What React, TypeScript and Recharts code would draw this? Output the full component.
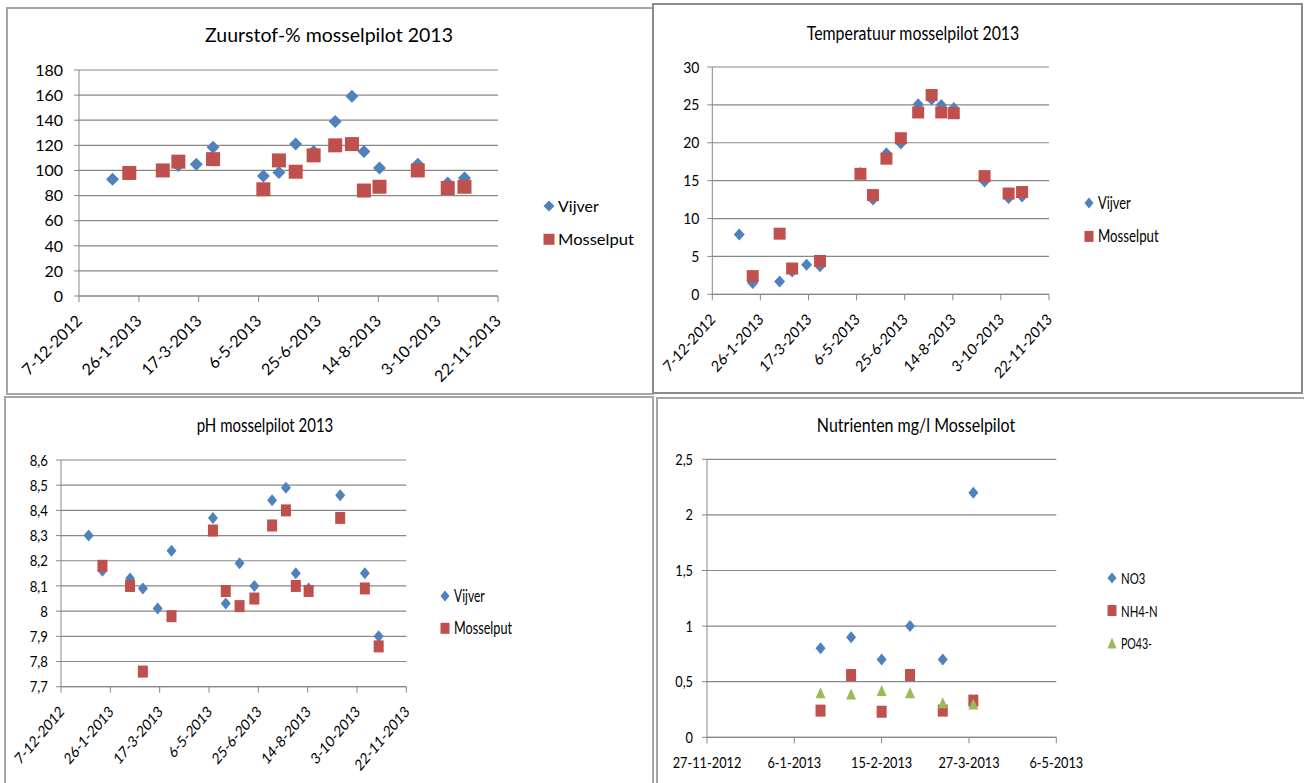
import { CartesianGrid, Legend, Scatter, ScatterChart, XAxis, YAxis } from 'recharts';

// sample dates of the mussel pilot (d-m-yyyy)
const sampleDates = [
  '4-1-2013', '18-1-2013', '15-2-2013', '28-2-2013', '15-3-2013', '29-3-2013', '10-5-2013', '23-5-2013',
  '6-6-2013', '21-6-2013', '9-7-2013', '23-7-2013', '2-8-2013', '15-8-2013', '16-9-2013', '11-10-2013', '25-10-2013',
];
const nutrientDates = ['18-1-2013', '1-2-2013', '15-2-2013', '28-2-2013', '15-3-2013', '29-3-2013'];

const zuurstofVijver = [93, null, null, 104, 105, 118.5, 95.5, 98.4, 121, 115, 139, 159, 115, 102, 105, 90, 94];
const zuurstofMosselput = [null, 98, 100, 107, null, 109, 85, 108, 99, 112, 120, 121, 84, 87, 100, 86, 87];

const tempVijver = [7.9, 1.5, 1.7, 3.0, 3.9, 3.7, 16, 12.5, 18.6, 19.9, 25.1, 25.7, 25, 24.6, 14.9, 12.7, 12.9];
const tempMosselput = [null, 2.4, 8.0, 3.4, null, 4.4, 15.9, 13.1, 17.9, 20.6, 24.0, 26.3, 24.0, 23.9, 15.6, 13.3, 13.5];

const phVijver = [8.3, 8.16, 8.13, 8.09, 8.01, 8.24, 8.37, 8.03, 8.19, 8.1, 8.44, 8.49, 8.15, 8.09, 8.46, 8.15, 7.9];
const phMosselput = [null, 8.18, 8.1, 7.76, null, 7.98, 8.32, 8.08, 8.02, 8.05, 8.34, 8.4, 8.1, 8.08, 8.37, 8.09, 7.86];

const no3 = [0.8, 0.9, 0.7, 1.0, 0.7, 2.2];
const nh4n = [0.24, 0.56, 0.23, 0.56, 0.24, 0.33];
const po43 = [0.4, 0.39, 0.42, 0.4, 0.31, 0.3];

const yearTicks = ['7-12-2012', '26-1-2013', '17-3-2013', '6-5-2013', '25-6-2013', '14-8-2013', '3-10-2013', '22-11-2013'];
const nutrientTicks = ['27-11-2012', '6-1-2013', '15-2-2013', '27-3-2013', '6-5-2013'];
const zuurstofTicks = [0, 20, 40, 60, 80, 100, 120, 140, 160, 180];
const tempTicks = [0, 5, 10, 15, 20, 25, 30];
const phTicks = [7.7, 7.8, 7.9, 8.0, 8.1, 8.2, 8.3, 8.4, 8.5, 8.6];
const nutrientValueTicks = [0, 0.5, 1, 1.5, 2, 2.5];

const FONT = 'Lato, "Open Sans", sans-serif';
const BLUE = '#4F81BD';
const RED = '#C0504D';
const GREEN = '#9BBB59';
const GRID = '#878787';

type Kind = 'diamond' | 'square' | 'triangle';

function dayNumber(s: string) {
  const [d, m, y] = s.split('-').map(Number);
  return Date.UTC(y, m - 1, d) / 86400000;
}

function dateLabel(n: number) {
  const dt = new Date(Math.round(n) * 86400000);
  return `${dt.getUTCDate()}-${dt.getUTCMonth() + 1}-${dt.getUTCFullYear()}`;
}

const commaLabel = (v: number) => String(Math.round(v * 10) / 10).replace('.', ',');

function points(dates: string[], values: (number | null)[]) {
  return dates
    .map((d, i) => ({ x: dayNumber(d), y: values[i] }))
    .filter((p) => p.y !== null);
}

function Marker({ kind, cx, cy, w, h, color }: { kind: Kind; cx: number; cy: number; w: number; h: number; color: string }) {
  if (kind === 'diamond') {
    return <polygon points={`${cx},${cy - h / 2} ${cx + w / 2},${cy} ${cx},${cy + h / 2} ${cx - w / 2},${cy}`} fill={color} />;
  }
  if (kind === 'square') {
    return <rect x={cx - w / 2} y={cy - h / 2} width={w} height={h} fill={color} />;
  }
  return <polygon points={`${cx},${cy - h / 2} ${cx + w / 2},${cy + h / 2} ${cx - w / 2},${cy + h / 2}`} fill={color} />;
}

type Series = { name: string; values: (number | null)[]; color: string; kind: Kind; w: number; h: number };

type PanelProps = {
  left: number;
  top: number;
  width: number;
  height: number;
  margin: { top: number; right: number; bottom: number; left: number };
  yWidth: number;
  xHeight: number;
  sx: number;
  fontSize: number;
  yMargin: number;
  title: string;
  titleX: number;
  titleY: number;
  titleLength: number;
  dates: string[];
  series: Series[];
  xTicks: string[];
  rotated: boolean;
  yTicks: number[];
  yFormat: (v: number) => string;
  legendX: number;
  legendY: number;
  legendGap: number;
  legendFont: number;
  legendWidths: number[];
  legendMarker: [number, number];
  border: string;
};

function ChartPanel(p: PanelProps) {
  const xs = p.xTicks.map(dayNumber);

  const yTick = ({ x, y, payload }: any) => (
    <g transform={`translate(${x},${y}) scale(${p.sx},1)`}>
      <text textAnchor="end" dy="0.36em" fontSize={p.fontSize} fontFamily={FONT} fill="#000">
        {p.yFormat(payload.value)}
      </text>
    </g>
  );

  const xTick = ({ x, y, payload }: any) =>
    p.rotated ? (
      <g transform={`translate(${x + 4},${y + 20}) scale(${p.sx},1) rotate(-45)`}>
        <text textAnchor="end" fontSize={p.fontSize} fontFamily={FONT} fill="#000">
          {dateLabel(payload.value)}
        </text>
      </g>
    ) : (
      <g transform={`translate(${x},${y + 25}) scale(${p.sx},1)`}>
        <text textAnchor="middle" fontSize={p.fontSize} fontFamily={FONT} fill="#000">
          {dateLabel(payload.value)}
        </text>
      </g>
    );

  const legendBox = () => (
    <svg width={140} height={120} style={{ display: 'block' }}>
      {p.series.map((s, i) => (
        <g key={s.name}>
          <Marker kind={s.kind} cx={10} cy={15 + i * p.legendGap} w={p.legendMarker[0]} h={p.legendMarker[1]} color={s.color} />
          <text
            x={19}
            y={15 + i * p.legendGap + 6}
            fontSize={p.legendFont}
            fontFamily={FONT}
            fill="#000"
            textLength={p.legendWidths[i]}
            lengthAdjust="spacingAndGlyphs"
          >
            {s.name}
          </text>
        </g>
      ))}
    </svg>
  );

  return (
    <div
      style={{
        position: 'absolute',
        left: p.left,
        top: p.top,
        width: p.width,
        height: p.height,
        boxSizing: 'border-box',
        border: `2px solid ${p.border}`,
      }}
    >
      <div style={{ position: 'absolute', left: -2, top: -2 }}>
        <ScatterChart width={p.width} height={p.height} margin={p.margin}>
          <CartesianGrid vertical={false} stroke={GRID} strokeWidth={1.2} />
          <XAxis
            type="number"
            dataKey="x"
            domain={[xs[0], xs[xs.length - 1]]}
            ticks={xs}
            interval={0}
            allowDataOverflow
            height={p.xHeight}
            tickSize={6}
            tickMargin={0}
            stroke={GRID}
            tick={xTick}
          />
          <YAxis
            type="number"
            dataKey="y"
            domain={[p.yTicks[0], p.yTicks[p.yTicks.length - 1]]}
            ticks={p.yTicks}
            interval={0}
            allowDataOverflow
            width={p.yWidth}
            tickSize={5}
            tickMargin={p.yMargin}
            stroke={GRID}
            tick={yTick}
          />
          <Legend
            layout="vertical"
            align="center"
            verticalAlign="middle"
            content={legendBox}
            wrapperStyle={{ left: p.legendX - 10, top: p.legendY - 15, width: 140, height: 120 }}
          />
          {p.series.map((s) => (
            <Scatter
              key={s.name}
              name={s.name}
              data={points(p.dates, s.values)}
              fill={s.color}
              isAnimationActive={false}
              shape={(props: any) => <Marker kind={s.kind} cx={props.cx} cy={props.cy} w={s.w} h={s.h} color={s.color} />}
            />
          ))}
        </ScatterChart>
      </div>
      <svg width={p.width} height={60} style={{ position: 'absolute', left: -2, top: -2, pointerEvents: 'none' }}>
        <text
          x={p.titleX - p.titleLength / 2}
          y={p.titleY}
          fontSize={18.5}
          fontFamily={FONT}
          fill="#000"
          textLength={p.titleLength}
          lengthAdjust="spacingAndGlyphs"
        >
          {p.title}
        </text>
      </svg>
    </div>
  );
}

export default function App() {
  return (
    <div style={{ position: 'absolute', left: 0, top: 0, width: 1304, height: 783, background: '#fff', overflow: 'hidden' }}>
      <ChartPanel
        left={6}
        top={7}
        width={648}
        height={388}
        margin={{ top: 63, right: 156, bottom: 19, left: 13 }}
        yWidth={60}
        xHeight={80}
        sx={1}
        fontSize={16}
        yMargin={11}
        title="Zuurstof-% mosselpilot 2013"
        titleX={323}
        titleY={35}
        titleLength={248}
        dates={sampleDates}
        series={[
          { name: 'Vijver', values: zuurstofVijver, color: BLUE, kind: 'diamond', w: 13, h: 13 },
          { name: 'Mosselput', values: zuurstofMosselput, color: RED, kind: 'square', w: 14, h: 14 },
        ]}
        xTicks={yearTicks}
        rotated
        yTicks={zuurstofTicks}
        yFormat={(v) => String(v)}
        legendX={543}
        legendY={199}
        legendGap={33.3}
        legendFont={16}
        legendWidths={[40.7, 76]}
        legendMarker={[11, 11]}
        border="#a6a6a6"
      />
      <ChartPanel
        left={652}
        top={3}
        width={651}
        height={391}
        margin={{ top: 64, right: 254, bottom: 19.7, left: 10.3 }}
        yWidth={50}
        xHeight={80}
        sx={0.9}
        fontSize={15.5}
        yMargin={8}
        title="Temperatuur mosselpilot 2013"
        titleX={261}
        titleY={37}
        titleLength={212.6}
        dates={sampleDates}
        series={[
          { name: 'Vijver', values: tempVijver, color: BLUE, kind: 'diamond', w: 11, h: 12 },
          { name: 'Mosselput', values: tempMosselput, color: RED, kind: 'square', w: 12, h: 12 },
        ]}
        xTicks={yearTicks}
        rotated
        yTicks={tempTicks}
        yFormat={(v) => String(v)}
        legendX={436.7}
        legendY={200.3}
        legendGap={33.4}
        legendFont={17.5}
        legendWidths={[32.7, 60.7]}
        legendMarker={[9, 11]}
        border="#8c8c8c"
      />
      <ChartPanel
        left={4}
        top={396}
        width={650}
        height={392}
        margin={{ top: 64, right: 247.7, bottom: 21.3, left: 11 }}
        yWidth={46}
        xHeight={80}
        sx={0.85}
        fontSize={15.5}
        yMargin={8}
        title="pH mosselpilot 2013"
        titleX={261}
        titleY={36}
        titleLength={136.6}
        dates={sampleDates}
        series={[
          { name: 'Vijver', values: phVijver, color: BLUE, kind: 'diamond', w: 10, h: 12 },
          { name: 'Mosselput', values: phMosselput, color: RED, kind: 'square', w: 10, h: 12 },
        ]}
        xTicks={yearTicks}
        rotated
        yTicks={phTicks}
        yFormat={commaLabel}
        legendX={441}
        legendY={200}
        legendGap={32.3}
        legendFont={17}
        legendWidths={[30.7, 58]}
        legendMarker={[9, 11]}
        border="#a6a6a6"
      />
      <ChartPanel
        left={656}
        top={397}
        width={652}
        height={391}
        margin={{ top: 62.3, right: 251.7, bottom: 10.7, left: 11 }}
        yWidth={40}
        xHeight={40}
        sx={0.85}
        fontSize={15}
        yMargin={9}
        title="Nutrienten mg/l Mosselpilot"
        titleX={260}
        titleY={35}
        titleLength={198.3}
        dates={nutrientDates}
        series={[
          { name: 'NO3', values: no3, color: BLUE, kind: 'diamond', w: 10, h: 12 },
          { name: 'NH4-N', values: nh4n, color: RED, kind: 'square', w: 10, h: 12 },
          { name: 'PO43-', values: po43, color: GREEN, kind: 'triangle', w: 10, h: 11 },
        ]}
        xTicks={nutrientTicks}
        rotated={false}
        yTicks={nutrientValueTicks}
        yFormat={commaLabel}
        legendX={455.7}
        legendY={181.3}
        legendGap={32.5}
        legendFont={16}
        legendWidths={[24.3, 36.7, 31]}
        legendMarker={[9, 11]}
        border="#a6a6a6"
      />
    </div>
  );
}
